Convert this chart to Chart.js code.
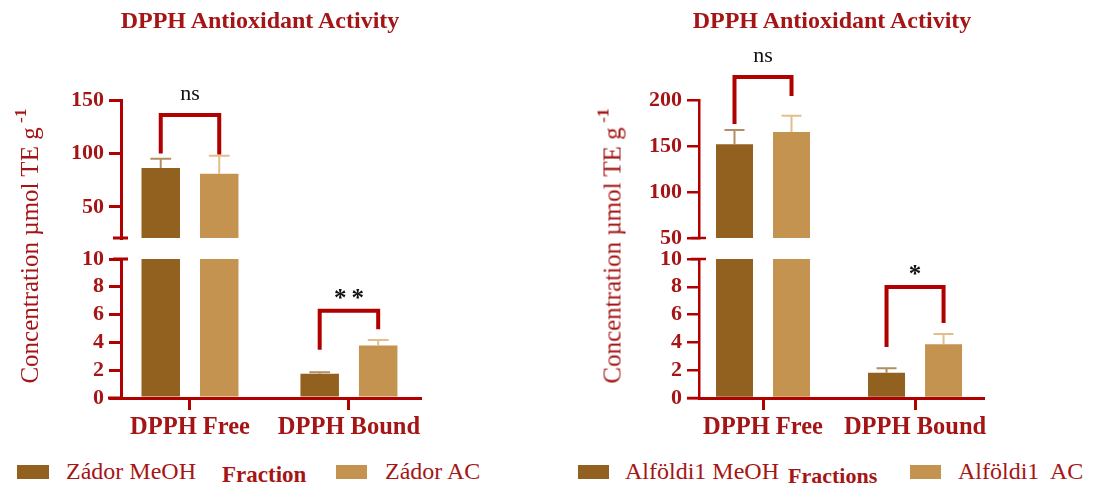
<!DOCTYPE html>
<html><head><meta charset="utf-8">
<script src="https://cdn.jsdelivr.net/npm/chart.js@4.4.0/dist/chart.umd.min.js"></script>
<style>
html,body{margin:0;padding:0;background:#fff;}
body{width:1110px;height:486px;overflow:hidden;position:relative;font-family:"Liberation Serif","Times New Roman",serif;}
canvas{position:absolute;}
.t{position:absolute;color:#a51515;white-space:pre;line-height:1;}
.sw{position:absolute;}
</style></head><body>
<canvas id="upL" width="400" height="220" style="left:40px;top:30px"></canvas>
<canvas id="loL" width="400" height="215" style="left:40px;top:240px"></canvas>
<canvas id="upR" width="400" height="220" style="left:618px;top:30px"></canvas>
<canvas id="loR" width="400" height="215" style="left:618px;top:240px"></canvas>
<script>
// ---------- data ----------
const categories = ['DPPH Free', 'DPPH Bound'];
const chartTitle = 'DPPH Antioxidant Activity';

// Left panel: Zádor
const zadorLabels = ['Zádor MeOH', 'Zádor AC'];
const zadorMeOH = [86.5, 1.75];
const zadorMeOHsd = [8.5, 0.1];
const zadorAC = [81, 3.77];
const zadorACsd = [17, 0.4];
const zadorUpperTicks = [50, 100, 150];
const zadorUpperRange = [21, 150];
const zadorLowerTicks = [0, 2, 4, 6, 8, 10];
const zadorLowerRange = [0, 10];
// brackets: [category index, top, left leg end, right leg end, label]
const zadorUpperBrackets = [[0, 136, 100, 99, 'ns']];
const zadorLowerBrackets = [[1, 6.27, 3.48, 4.95, '**']];

// Right panel: Alföldi1
const alfoldiLabels = ['Alföldi1 MeOH', 'Alföldi1  AC'];
const alfoldiMeOH = [151.8, 1.82];
const alfoldiMeOHsd = [15.6, 0.32];
const alfoldiAC = [165.2, 3.86];
const alfoldiACsd = [17.7, 0.74];
const alfoldiUpperTicks = [50, 100, 150, 200];
const alfoldiUpperRange = [50, 200];
const alfoldiLowerTicks = [0, 2, 4, 6, 8, 10];
const alfoldiLowerRange = [0, 10];
const alfoldiUpperBrackets = [[0, 225, 174, 204.3, 'ns']];
const alfoldiLowerBrackets = [[1, 7.99, 3.67, 5.4, '*']];

// ---------- styles ----------
const C_TEXT = '#a51515', C_AXIS = '#b00000';
const MEOH_COLOR = '#92601f', AC_COLOR = '#c4934f';
const MEOH_ERR = '#b48e62', AC_ERR = '#e3be8a';
const FONT = "'Liberation Serif','Times New Roman',serif";
Chart.defaults.font.family = FONT;

const errorBarPlugin = {
  id: 'errbars',
  afterDatasetsDraw(chart) {
    const {ctx, chartArea: a} = chart; const ys = chart.scales.y;
    ctx.save(); ctx.beginPath(); ctx.rect(a.left, a.top - 2, a.right - a.left, a.bottom - a.top + 2); ctx.clip();
    chart.data.datasets.forEach((ds, di) => {
      const meta = chart.getDatasetMeta(di);
      meta.data.forEach((bar, i) => {
        const v = ds.data[i].y, e = ds.errors[i];
        const y0 = ys.getPixelForValue(v), y1 = ys.getPixelForValue(v + e);
        const half = bar.width * 0.27;
        ctx.strokeStyle = ds.errorColor; ctx.lineWidth = 2;
        ctx.beginPath();
        ctx.moveTo(bar.x, y0); ctx.lineTo(bar.x, y1);
        ctx.moveTo(bar.x - half, y1); ctx.lineTo(bar.x + half, y1);
        ctx.stroke();
      });
    });
    ctx.restore();
  }
};

const decorPlugin = {
  id: 'decor',
  afterDraw(chart, args, opts) {
    const {ctx, chartArea: a} = chart; const ys = chart.scales.y;
    ctx.save();
    ctx.strokeStyle = C_AXIS; ctx.lineWidth = opts.axisWidth;
    ctx.beginPath();
    if (opts.part === 'upper') { ctx.moveTo(a.left - 8, a.bottom); ctx.lineTo(a.left + 7, a.bottom); }
    else {
      ctx.moveTo(a.left - 8, a.top); ctx.lineTo(a.left + 7, a.top);
      ctx.moveTo(a.left - opts.stub, a.bottom); ctx.lineTo(a.left, a.bottom);
    }
    ctx.stroke();
    (opts.brackets || []).forEach(b => {
      const [cat, top, l, r, label] = b;
      const x0 = chart.getDatasetMeta(0).data[cat].x, x1 = chart.getDatasetMeta(1).data[cat].x;
      const yt = ys.getPixelForValue(top);
      ctx.strokeStyle = C_AXIS; ctx.lineWidth = 4; ctx.lineJoin = 'miter'; ctx.lineCap = 'butt';
      ctx.beginPath();
      ctx.moveTo(x0, ys.getPixelForValue(l)); ctx.lineTo(x0, yt); ctx.lineTo(x1, yt); ctx.lineTo(x1, ys.getPixelForValue(r));
      ctx.stroke();
      const star = label.indexOf('*') >= 0;
      ctx.fillStyle = '#111';
      ctx.font = (star ? 'bold 25px ' : '22px ') + FONT;
      ctx.textAlign = 'center'; ctx.textBaseline = 'alphabetic';
      const sp = star && label.length > 1 ? 5 : 0;
      if ('letterSpacing' in ctx) ctx.letterSpacing = sp + 'px';
      ctx.fillText(label, (x0 + x1) / 2 + sp / 2, yt - (star ? 5 : 15));
    });
    ctx.restore();
  }
};

function yScale(range, ticks, lw) {
  return {
    type: 'linear', min: range[0], max: range[1],
    afterBuildTicks: s => { s.ticks = ticks.map(v => ({value: v})); },
    afterFit: s => { s.width = 81; s.paddingTop = 0; s.paddingBottom = 0; },
    border: {color: C_AXIS, width: lw},
    grid: {drawOnChartArea: false, drawTicks: true, tickLength: 12, color: C_AXIS, lineWidth: lw},
    ticks: {color: C_TEXT, font: {size: 22, weight: 'bold'}, padding: 5, autoSkip: false}
  };
}
function xScale(xr, show) {
  return {
    type: 'linear', min: xr[0], max: xr[1], offset: false, display: show,
    afterBuildTicks: s => { s.ticks = categories.map((c, i) => ({value: i})); },
    afterFit: s => { s.height = show ? 57 : 0; s.paddingLeft = 0; s.paddingRight = 0; },
    border: {color: C_AXIS, width: 3},
    grid: {drawOnChartArea: false, offset: false, tickLength: 12, color: C_AXIS, lineWidth: 3},
    ticks: {callback: (v, i) => categories[i], color: C_TEXT, font: {size: 24.5, weight: 'bold'}, padding: 3, maxRotation: 0, minRotation: 0, autoSkip: false}
  };
}
function datasets(meoh, meohSd, ac, acSd, labels, cp, bp) {
  return [
    {label: labels[0], data: meoh.map((v, i) => ({x: i, y: v})), errors: meohSd, errorColor: MEOH_ERR,
     backgroundColor: MEOH_COLOR, categoryPercentage: cp, barPercentage: bp},
    {label: labels[1], data: ac.map((v, i) => ({x: i, y: v})), errors: acSd, errorColor: AC_ERR,
     backgroundColor: AC_COLOR, categoryPercentage: cp, barPercentage: bp}
  ];
}
function makeChart(id, part, ds, xr, yr, yt, brackets, padding, lw, stub) {
  return new Chart(document.getElementById(id), {
    type: 'bar',
    data: {datasets: ds},
    options: {
      responsive: false, animation: false, devicePixelRatio: 1,
      layout: {padding: padding},
      scales: {x: xScale(xr, part === 'lower'), y: yScale(yr, yt, lw)},
      plugins: {legend: {display: false}, tooltip: {enabled: false}, title: {display: false},
                decor: {part: part, brackets: brackets, axisWidth: lw, stub: stub}}
    },
    plugins: [errorBarPlugin, decorPlugin]
  });
}
const xrL = [-0.434, 1.447], xrR = [-0.421, 1.447];
makeChart('upL', 'upper', datasets(zadorMeOH, zadorMeOHsd, zadorAC, zadorACsd, zadorLabels, 0.736, 0.658),
  xrL, zadorUpperRange, zadorUpperTicks, zadorUpperBrackets, {top: 70, right: 20, bottom: 12, left: 0}, 3, 0);
makeChart('loL', 'lower', datasets(zadorMeOH, zadorMeOHsd, zadorAC, zadorACsd, zadorLabels, 0.736, 0.658),
  xrL, zadorLowerRange, zadorLowerTicks, zadorLowerBrackets, {top: 19, right: 20, bottom: 0, left: 0}, 3, 13);
makeChart('upR', 'upper', datasets(alfoldiMeOH, alfoldiMeOHsd, alfoldiAC, alfoldiACsd, alfoldiLabels, 0.75, 0.649),
  xrR, alfoldiUpperRange, alfoldiUpperTicks, alfoldiUpperBrackets, {top: 70, right: 35, bottom: 12, left: 0}, 2.5, 0);
makeChart('loR', 'lower', datasets(alfoldiMeOH, alfoldiMeOHsd, alfoldiAC, alfoldiACsd, alfoldiLabels, 0.75, 0.649),
  xrR, alfoldiLowerRange, alfoldiLowerTicks, alfoldiLowerBrackets, {top: 19, right: 35, bottom: 0, left: 0}, 2.5, 12);

// ---------- text ----------
function addText(html, x, base, size, bold, center) {
  const d = document.createElement('div');
  d.className = 't'; d.innerHTML = html;
  d.style.fontSize = size + 'px'; d.style.fontWeight = bold ? 'bold' : 'normal';
  d.style.top = (base - 0.8375 * size) + 'px'; d.style.left = x + 'px';
  if (center) d.style.transform = 'translateX(-50%)';
  document.body.appendChild(d);
}
function addVTitle(cx, cy) {
  const d = document.createElement('div');
  d.className = 't';
  d.innerHTML = 'Concentration µmol TE g<span style="position:relative;top:-0.7em;font-size:0.7em"> -<b>1</b></span>';
  d.style.fontSize = '25px';
  d.style.left = cx + 'px'; d.style.top = cy + 'px';
  d.style.transform = 'translate(-50%,-50%) rotate(-90deg)';
  document.body.appendChild(d);
}
function addSwatch(x, y, w, h, color) {
  const d = document.createElement('div');
  d.className = 'sw'; d.style.left = x + 'px'; d.style.top = y + 'px';
  d.style.width = w + 'px'; d.style.height = h + 'px'; d.style.background = color;
  document.body.appendChild(d);
}
addText(chartTitle, 260, 28, 24, true, true);
addText(chartTitle, 832, 28, 24, true, true);
addVTitle(29, 246);
addVTitle(612, 246);
addSwatch(17, 465, 32, 14, MEOH_COLOR);
addText(zadorLabels[0], 66, 479, 24, false, false);
addText('Fraction', 222, 482, 23, true, false);
addSwatch(336, 465, 31, 14, AC_COLOR);
addText(zadorLabels[1], 385, 479, 24, false, false);

addSwatch(578, 465, 31, 14, MEOH_COLOR);
addText(alfoldiLabels[0], 625, 479, 24, false, false);
addText('Fractions', 788, 483, 22, true, false);
addSwatch(910, 465, 31, 14, AC_COLOR);
addText(alfoldiLabels[1], 958, 479, 24, false, false);
</script>
</body></html>
